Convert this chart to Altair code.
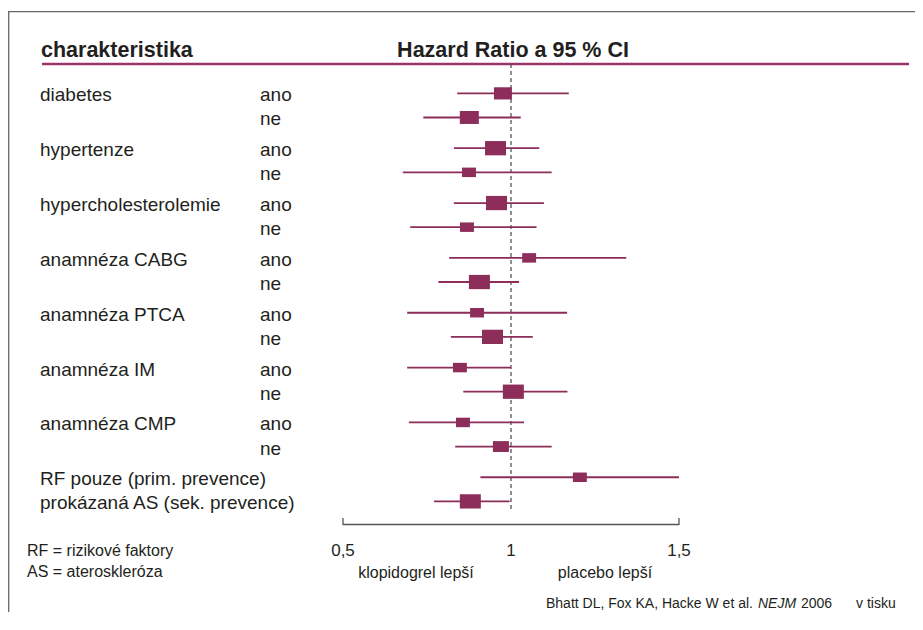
import altair as alt
import pandas as pd

# ---------------- data ----------------
row_labels = [
    "diabetes", "", "hypertenze", "", "hypercholesterolemie", "",
    "anamnéza CABG", "", "anamnéza PTCA", "", "anamnéza IM", "",
    "anamnéza CMP", "", "RF pouze (prim. prevence)", "prokázaná AS (sek. prevence)",
]
sub_labels = ["ano", "ne"] * 7 + ["", ""]
hr = [0.976, 0.876, 0.954, 0.875, 0.957, 0.869, 1.054, 0.906,
      0.899, 0.945, 0.848, 1.007, 0.857, 0.970, 1.205, 0.879]
ci_low = [0.840, 0.739, 0.830, 0.678, 0.830, 0.700, 0.816, 0.784,
          0.691, 0.821, 0.691, 0.858, 0.696, 0.834, 0.909, 0.771]
ci_high = [1.172, 1.029, 1.084, 1.121, 1.098, 1.076, 1.343, 1.024,
           1.167, 1.065, 1.000, 1.168, 1.039, 1.121, 1.500, 0.996]
weight = [0.73, 0.82, 1.0, 0.44, 1.0, 0.44, 0.44, 1.0,
          0.44, 1.0, 0.44, 1.0, 0.44, 0.58, 0.44, 1.0]

tick_values = [0.5, 1.0, 1.5]
tick_labels = ["0,5", "1", "1,5"]

header_left = "charakteristika"
header_mid = "Hazard Ratio a 95 % CI"
legend_lines = ["RF = rizikové faktory", "AS = ateroskleróza"]
side_left = "klopidogrel lepší"
side_right = "placebo lepší"
cite_a = "Bhatt DL, Fox KA, Hacke W et al."
cite_b = "NEJM"
cite_c = "2006"
cite_d = "v tisku"

df = pd.DataFrame({
    "label": row_labels, "sub": sub_labels, "hr": hr,
    "lo": ci_low, "hi": ci_high, "weight": weight,
})
df["group"] = [i // 2 for i in range(len(df))]
df["pos"] = [i % 2 for i in range(len(df))]

# ---------------- styling ----------------
W, H = 907, 604
FONT = "Liberation Sans"
MAG = "#8C2D5A"
TXT = "#231F20"
GRAY = "#555555"

x_scale = alt.Scale(domain=[-0.497, 2.2024], nice=False, zero=False)
y_enc = alt.Y("group:O", axis=None,
              scale=alt.Scale(type="band", range=[70.0, 508.75],
                              paddingInner=0.12, paddingOuter=0.06))
yo_enc = alt.YOffset("pos:O", scale=alt.Scale(paddingInner=0, paddingOuter=0))

base = alt.Chart(df)

ci = base.mark_rule(color=MAG, strokeWidth=1.8).encode(
    x=alt.X("lo:Q", scale=x_scale, axis=None), x2="hi:Q", y=y_enc, yOffset=yo_enc)

sq = base.mark_point(shape="M-1,-0.68L1,-0.68L1,0.68L-1,0.68Z", filled=True,
                     fill=MAG, opacity=1, strokeWidth=0).encode(
    x=alt.X("hr:Q", scale=x_scale, axis=None), y=y_enc, yOffset=yo_enc,
    size=alt.Size("weight:Q", scale=alt.Scale(domain=[0, 1], range=[0, 441]), legend=None))

lab = base.mark_text(align="left", baseline="middle", dy=2, font=FONT,
                     fontSize=19, color=TXT).encode(
    x=alt.value(32), y=y_enc, yOffset=yo_enc, text="label:N")

sublab = base.mark_text(align="left", baseline="middle", dy=2, font=FONT,
                        fontSize=19, color=TXT).encode(
    x=alt.value(252), y=y_enc, yOffset=yo_enc, text="sub:N")

ref = alt.Chart(pd.DataFrame({"v": [1.0]})).mark_rule(
    color=GRAY, strokeWidth=1.3, strokeDash=[4, 3]).encode(
    x=alt.X("v:Q", scale=x_scale, axis=None), y=alt.value(56), y2=alt.value(504))

brk = alt.Chart(pd.DataFrame({"a": [tick_values[0]], "b": [tick_values[-1]]})).mark_rule(
    color=GRAY, strokeWidth=1.3).encode(
    x=alt.X("a:Q", scale=x_scale, axis=None), x2="b:Q", y=alt.value(516.5))

brk_ends = alt.Chart(pd.DataFrame({"v": [tick_values[0], tick_values[-1]]})).mark_rule(
    color=GRAY, strokeWidth=1.3).encode(
    x=alt.X("v:Q", scale=x_scale, axis=None), y=alt.value(510), y2=alt.value(517))

ticks = alt.Chart(pd.DataFrame({"v": tick_values, "t": tick_labels})).mark_text(
    baseline="middle", align="center", font=FONT, fontSize=17, color=TXT).encode(
    x=alt.X("v:Q", scale=x_scale, axis=None), y=alt.value(543), text="t:N")

def txt(s, x, y, size, align="left", baseline="middle", weight="normal", style="normal"):
    return alt.Chart(pd.DataFrame({"t": [s]})).mark_text(
        align=align, baseline=baseline, font=FONT, fontSize=size,
        fontWeight=weight, fontStyle=style, color=TXT).encode(
        x=alt.value(x), y=alt.value(y), text="t:N")

h1 = txt(header_left, 33, 49, 21.5, baseline="alphabetic", weight="bold")
h2 = txt(header_mid, 505, 49, 21.5, align="center", baseline="alphabetic", weight="bold")

hline = alt.Chart(pd.DataFrame({"k": [0]})).mark_rule(color="#9A3366", strokeWidth=2.6).encode(
    x=alt.value(34), x2=alt.value(901), y=alt.value(56))

frame_top = alt.Chart(pd.DataFrame({"k": [0]})).mark_rule(color="#666666", strokeWidth=1.3).encode(
    x=alt.value(0), x2=alt.value(W), y=alt.value(3.7))
frame_left = alt.Chart(pd.DataFrame({"k": [0]})).mark_rule(color="#666666", strokeWidth=1.3).encode(
    x=alt.value(0.7), y=alt.value(3.7), y2=alt.value(H))

leg1 = txt(legend_lines[0], 19, 543, 16)
leg2 = txt(legend_lines[1], 19, 564, 16)
s1 = txt(side_left, 408, 565, 16, align="center")
s2 = txt(side_right, 597, 565, 16, align="center")

c1 = txt(cite_a, 538, 596, 14)
c2 = txt(cite_b, 750, 596, 14, style="italic")
c3 = txt(cite_c, 793, 596, 14)
c4 = txt(cite_d, 848, 596, 14)

chart = alt.layer(
    frame_top, frame_left, hline, ref, ci, sq, lab, sublab, brk, brk_ends, ticks,
    h1, h2, leg1, leg2, s1, s2, c1, c2, c3, c4,
).properties(
    width=W, height=H, autosize="none", padding=0, background="white"
).configure_view(stroke=None)

chart.save("out.html", embed_options={"renderer": "svg", "actions": False})
